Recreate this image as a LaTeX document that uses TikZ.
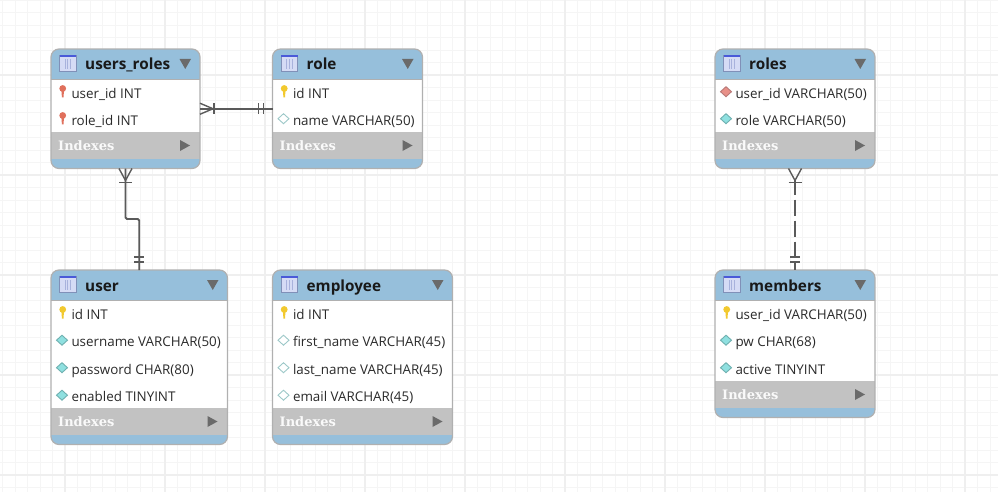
\documentclass[tikz,border=0pt]{standalone}
\usepackage{fontspec}
\setmainfont{Open Sans}
\newfontfamily\idxfont{DejaVu Serif}
\definecolor{hdr}{HTML}{96BFDB}
\definecolor{frame}{HTML}{B0B0B0}
\definecolor{idx}{HTML}{C2C2C2}
\definecolor{tri}{HTML}{6A6A6A}
\definecolor{conn}{HTML}{5A5A5A}
\definecolor{gmin}{HTML}{F5F5F5}
\definecolor{gmaj}{HTML}{EFEFEF}
\definecolor{ink}{HTML}{2A2A2A}
\definecolor{iconfill}{HTML}{D5DBF5}
\definecolor{iconbar}{HTML}{4A5AD8}
\definecolor{iconedge}{HTML}{8090B8}
\definecolor{iconline}{HTML}{A8B2DC}
\definecolor{keyyel}{HTML}{F2C92E}
\definecolor{keyred}{HTML}{E0705C}
\definecolor{diared}{HTML}{E89088}
\definecolor{diaredb}{HTML}{B87A78}
\definecolor{diacyan}{HTML}{8FE0E0}
\definecolor{diacyanb}{HTML}{6FB0B0}
\definecolor{diaop}{HTML}{9CC8C8}
\tikzset{
  x=1pt,y=-1pt,
  tablebox/.style={draw=frame,line width=1.2pt,rounded corners=8pt,inner sep=0,outer sep=0},
  rowtext/.style={anchor=base west,inner sep=0,text=ink,font=\fontsize{13.4}{13.4}\selectfont},
  titletext/.style={anchor=base west,inner sep=0,text=black!90,font=\fontsize{15.3}{15.3}\selectfont\bfseries},
  idxtext/.style={anchor=base west,inner sep=0,text=white!92!idx,font=\fontsize{13}{13}\selectfont\idxfont\bfseries},
  rel/.style={draw=conn,line width=1.8pt},
  relmark/.style={draw=conn,line width=1.4pt},
}
% \erdtable{name}{x0}{x1}{y0}{header end}{rows end}{indexes end}{y1}{title}
\newcommand{\erdtable}[9]{%
  \begin{scope}
    \path[clip,rounded corners=8pt] (#2,#4) rectangle (#3,#8);
    \fill[hdr] (#2,#4) rectangle (#3,#8);
    \fill[white] (#2,#5) rectangle (#3,#6);
    \fill[idx] (#2,#6) rectangle (#3,#7);
    \draw[frame,line width=.8pt] (#2,#5) -- (#3,#5);
  \end{scope}
  \node[tablebox,minimum width=#3 pt-#2 pt,minimum height=#8 pt-#4 pt] (#1) at ({(#2+#3)/2},{(#4+#8)/2}) {};
  % table icon
  \begin{scope}[shift={(#2+8.5,#4+6)}]
    \fill[iconfill] (0,0) rectangle (16.5,16.5);
    \draw[iconedge,line width=.9pt] (0,0) rectangle (16.5,16.5);
    \fill[iconbar] (0,-.4) rectangle (16.5,1.6);
    \draw[iconline,line width=.8pt] (5.5,4) -- (5.5,14) (8.2,4) -- (8.2,14) (11,4) -- (11,14);
  \end{scope}
  \node[titletext] (#1-title) at (#2+34,#4+21) {#9};
  \fill[tri] (#3-20.5,#4+10) -- (#3-9,#4+10) -- (#3-14.75,#4+20) -- cycle;
  \node[idxtext] (#1-indexes) at (#2+7,#6+18) {Indexes};
  \fill[tri] (#3-20,#6+8) -- (#3-10,#6+13.5) -- (#3-20,#6+19) -- cycle;
}
% \erdrow{id}{icon}{x0}{y centre}{text}
\newcommand{\erdrow}[5]{%
  \csname erdicon#2\endcsname{#3}{#4}%
  \node[rowtext] (#1) at (#3+20.3,#4+5.2) {#5};
}
\newcommand{\erdkey}[3]{%
  \fill[#3] (#1+11.7,#2-4.5) circle (3.4pt);
  \fill[#3] (#1+10.3,#2-4.5) -- (#1+13.1,#2-4.5) -- (#1+12.5,#2+4.5) -- (#1+10.9,#2+4.5) -- cycle;
}
\newcommand{\erdiconkeyy}[2]{\erdkey{#1}{#2}{keyyel}}
\newcommand{\erdiconkeyr}[2]{\erdkey{#1}{#2}{keyred}}
\newcommand{\erddia}[4]{%
  \filldraw[fill=#3,draw=#4,line width=.9pt] (#1+5.5,#2-1.3) -- (#1+11,#2-6.3) -- (#1+16.5,#2-1.3) -- (#1+11,#2+3.7) -- cycle;
}
\newcommand{\erdiconfk}[2]{\erddia{#1}{#2}{diared}{diaredb}}
\newcommand{\erdiconnn}[2]{\erddia{#1}{#2}{diacyan}{diacyanb}}
\newcommand{\erdiconop}[2]{\erddia{#1}{#2}{white}{diaop}}
\begin{document}
\begin{tikzpicture}
\fill[white] (0,0) rectangle (998,492);
\useasboundingbox (0,0) rectangle (998,492);
\begin{scope}
  \clip (0,0) rectangle (998,492);
  \foreach \k in {0,...,80} {\draw[gmin,line width=.9pt] ({2.5+12.5*\k},0) -- ({2.5+12.5*\k},492);}
  \foreach \k in {0,...,39} {\draw[gmin,line width=.9pt] (0,{12.5*\k}) -- (998,{12.5*\k});}
  \foreach \k in {0,...,9} {\draw[gmaj,line width=1.1pt] ({65+100*\k},0) -- ({65+100*\k},492);}
  \foreach \k in {0,...,4} {\draw[gmaj,line width=1.1pt] (0,{75+100*\k}) -- (998,{75+100*\k});}
\end{scope}

\erdtable{usersroles}{51}{200}{49}{79}{132}{158.5}{168.5}{users\_roles}
\erdrow{ur1}{keyr}{51}{93}{user\_id INT}
\erdrow{ur2}{keyr}{51}{120}{role\_id INT}

\erdtable{role}{272.5}{422.5}{49}{79}{132}{158.5}{168.5}{role}
\erdrow{ro1}{keyy}{272.5}{93}{id INT}
\erdrow{ro2}{op}{272.5}{120}{name VARCHAR(50)}

\erdtable{user}{51}{227.5}{270}{300}{408}{434.5}{444.5}{user}
\erdrow{us1}{keyy}{51}{314}{id INT}
\erdrow{us2}{nn}{51}{341.5}{username VARCHAR(50)}
\erdrow{us3}{nn}{51}{369}{password CHAR(80)}
\erdrow{us4}{nn}{51}{396.5}{enabled TINYINT}

\erdtable{employee}{272.5}{452.5}{270}{300}{408}{434.5}{444.5}{employee}
\erdrow{em1}{keyy}{272.5}{314}{id INT}
\erdrow{em2}{op}{272.5}{341.5}{first\_name VARCHAR(45)}
\erdrow{em3}{op}{272.5}{369}{last\_name VARCHAR(45)}
\erdrow{em4}{op}{272.5}{396.5}{email VARCHAR(45)}

\erdtable{roles}{715}{875}{49}{79}{132}{158.5}{168.5}{roles}
\erdrow{rs1}{fk}{715}{93}{user\_id VARCHAR(50)}
\erdrow{rs2}{nn}{715}{120}{role VARCHAR(50)}

\erdtable{members}{715}{875}{270}{300}{381}{407.5}{417.5}{members}
\erdrow{me1}{keyy}{715}{314}{user\_id VARCHAR(50)}
\erdrow{me2}{nn}{715}{341.5}{pw CHAR(68)}
\erdrow{me3}{nn}{715}{369}{active TINYINT}

% users_roles -- role
\draw[rel] (usersroles.east) -- (role.west);
\draw[relmark] ([yshift=5.5pt]usersroles.east) -- ([xshift=13pt]usersroles.east) -- ([yshift=-5.5pt]usersroles.east);
\draw[relmark] ([xshift=14pt,yshift=5.5pt]usersroles.east) -- ([xshift=14pt,yshift=-5.5pt]usersroles.east);
\draw[relmark] ([xshift=-9pt,yshift=5.5pt]role.west) -- ([xshift=-9pt,yshift=-5.5pt]role.west);
\draw[relmark] ([xshift=-14pt,yshift=5.5pt]role.west) -- ([xshift=-14pt,yshift=-5.5pt]role.west);

% users_roles -- user
\coordinate (bendA) at ([yshift=-50.5pt]usersroles.south);
\draw[rel,rounded corners=1.5pt] (usersroles.south) -- (bendA) -| (user.north);
\draw[relmark] ([xshift=-6.5pt]usersroles.south) -- ([yshift=-12pt]usersroles.south) -- ([xshift=6.5pt]usersroles.south);
\draw[relmark] ([xshift=-6.5pt,yshift=-14pt]usersroles.south) -- ([xshift=6.5pt,yshift=-14pt]usersroles.south);
\draw[relmark] ([xshift=-5pt,yshift=8pt]user.north) -- ([xshift=5pt,yshift=8pt]user.north);
\draw[relmark] ([xshift=-5pt,yshift=13pt]user.north) -- ([xshift=5pt,yshift=13pt]user.north);

% roles -- members
\draw[rel,dash pattern=on 16pt off 5pt] ([yshift=-10pt]roles.south) -- (members.north);
\draw[relmark] ([xshift=-6.5pt]roles.south) -- ([yshift=-12pt]roles.south) -- ([xshift=6.5pt]roles.south);
\draw[relmark] ([xshift=-6.5pt,yshift=-14pt]roles.south) -- ([xshift=6.5pt,yshift=-14pt]roles.south);
\draw[relmark] ([xshift=-5pt,yshift=8pt]members.north) -- ([xshift=5pt,yshift=8pt]members.north);
\draw[relmark] ([xshift=-5pt,yshift=13pt]members.north) -- ([xshift=5pt,yshift=13pt]members.north);
\end{tikzpicture}
\end{document}
